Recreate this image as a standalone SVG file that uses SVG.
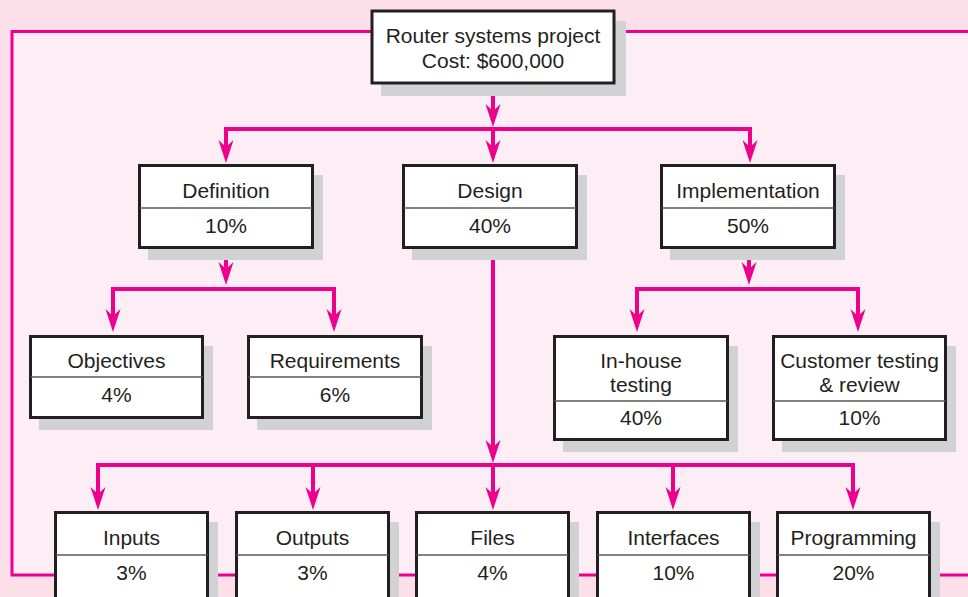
<svg xmlns="http://www.w3.org/2000/svg" width="968" height="597" viewBox="0 0 968 597">
<style>
.box{fill:#fff;stroke:#231f20;stroke-width:3}
.sh{fill:#d1d2d4}
.div{stroke:#58595b;stroke-width:1.5}
text{font-family:"Liberation Sans",Arial,sans-serif;font-size:21px;fill:#231f20;text-anchor:middle}
.c{fill:none;stroke:#ec008c;stroke-width:4;stroke-linejoin:miter}
</style>
<defs>
<marker id="ah" markerUnits="userSpaceOnUse" orient="auto" refX="0" refY="0" markerWidth="30" markerHeight="20" overflow="visible">
<path d="M10,0 L-13,-7.5 L-6,0 L-13,7.5 Z" fill="#ec008c"/>
</marker>
</defs>
<rect x="0" y="0" width="968" height="597" fill="#fcdfe9"/>
<rect x="12" y="31.5" width="960" height="543.5" fill="#fdedf4"/>
<path d="M972,31.5 H12 V575 H972" fill="none" stroke="#ec008c" stroke-width="3"/>

<g id="connectors">
<path class="c" d="M493,84 V117" marker-end="url(#ah)"/>
<path class="c" d="M493,129 H226 V153" marker-end="url(#ah)"/>
<path class="c" d="M493,129 V153" marker-end="url(#ah)"/>
<path class="c" d="M493,129 H750 V153" marker-end="url(#ah)"/>
<path class="c" d="M226,249 V275" marker-end="url(#ah)"/>
<path class="c" d="M226,289 H113 V322" marker-end="url(#ah)"/>
<path class="c" d="M226,289 H334 V322" marker-end="url(#ah)"/>
<path class="c" d="M749,249 V275" marker-end="url(#ah)"/>
<path class="c" d="M749,289 H637 V322" marker-end="url(#ah)"/>
<path class="c" d="M749,289 H858 V322" marker-end="url(#ah)"/>
<path class="c" d="M493,249 V453" marker-end="url(#ah)"/>
<path class="c" d="M493,465 H98 V500" marker-end="url(#ah)"/>
<path class="c" d="M493,465 H313 V500" marker-end="url(#ah)"/>
<path class="c" d="M493,465 V500" marker-end="url(#ah)"/>
<path class="c" d="M493,465 H673 V500" marker-end="url(#ah)"/>
<path class="c" d="M493,465 H853 V500" marker-end="url(#ah)"/>
</g>

<g id="root">
<rect class="sh" x="381" y="21" width="245" height="75"/>
<rect class="box" x="372" y="11" width="242" height="72"/>
<text x="493" y="43">Router systems project</text>
<text x="493" y="68">Cost: $600,000</text>
</g>

<g id="definition">
<rect class="sh" x="148" y="175" width="175" height="85"/>
<rect class="box" x="139.5" y="165.5" width="173" height="82"/>
<line class="div" x1="139.5" y1="208" x2="312.5" y2="208"/>
<text x="226" y="198">Definition</text>
<text x="226" y="233">10%</text>
</g>

<g id="design">
<rect class="sh" x="412" y="175" width="175" height="85"/>
<rect class="box" x="403.5" y="165.5" width="173" height="82"/>
<line class="div" x1="403.5" y1="208" x2="576.5" y2="208"/>
<text x="490" y="198">Design</text>
<text x="490" y="233">40%</text>
</g>

<g id="implementation">
<rect class="sh" x="670" y="175" width="175" height="85"/>
<rect class="box" x="661.5" y="165.5" width="173" height="82"/>
<line class="div" x1="661.5" y1="208" x2="834.5" y2="208"/>
<text x="748" y="198">Implementation</text>
<text x="748" y="233">50%</text>
</g>

<g id="objectives">
<rect class="sh" x="39" y="346" width="174" height="84"/>
<rect class="box" x="30.5" y="336.5" width="172" height="81"/>
<line class="div" x1="30.5" y1="377" x2="202.5" y2="377"/>
<text x="116.5" y="368">Objectives</text>
<text x="116.5" y="402">4%</text>
</g>

<g id="requirements">
<rect class="sh" x="257" y="346" width="175" height="84"/>
<rect class="box" x="248.5" y="336.5" width="173" height="81"/>
<line class="div" x1="248.5" y1="377" x2="421.5" y2="377"/>
<text x="335" y="368">Requirements</text>
<text x="335" y="402">6%</text>
</g>

<g id="inhouse">
<rect class="sh" x="563" y="346" width="175" height="106"/>
<rect class="box" x="554.5" y="336.5" width="173" height="103"/>
<line class="div" x1="554.5" y1="401" x2="727.5" y2="401"/>
<text x="641" y="368">In-house</text>
<text x="641" y="392">testing</text>
<text x="641" y="425">40%</text>
</g>

<g id="customer">
<rect class="sh" x="782" y="346" width="174" height="106"/>
<rect class="box" x="773.5" y="336.5" width="172" height="103"/>
<line class="div" x1="773.5" y1="401" x2="945.5" y2="401"/>
<text x="859.5" y="368">Customer testing</text>
<text x="859.5" y="392">&amp; review</text>
<text x="859.5" y="425">10%</text>
</g>

<g id="inputs">
<rect class="sh" x="64" y="522" width="154" height="90"/>
<rect class="box" x="55.5" y="512.5" width="152" height="90"/>
<line class="div" x1="55.5" y1="555" x2="207.5" y2="555"/>
<text x="131.5" y="545">Inputs</text>
<text x="131.5" y="580">3%</text>
</g>

<g id="outputs">
<rect class="sh" x="245" y="522" width="154" height="90"/>
<rect class="box" x="236.5" y="512.5" width="152" height="90"/>
<line class="div" x1="236.5" y1="555" x2="388.5" y2="555"/>
<text x="312.5" y="545">Outputs</text>
<text x="312.5" y="580">3%</text>
</g>

<g id="files">
<rect class="sh" x="425" y="522" width="154" height="90"/>
<rect class="box" x="416.5" y="512.5" width="152" height="90"/>
<line class="div" x1="416.5" y1="555" x2="568.5" y2="555"/>
<text x="492.5" y="545">Files</text>
<text x="492.5" y="580">4%</text>
</g>

<g id="interfaces">
<rect class="sh" x="606" y="522" width="154" height="90"/>
<rect class="box" x="597.5" y="512.5" width="152" height="90"/>
<line class="div" x1="597.5" y1="555" x2="749.5" y2="555"/>
<text x="673.5" y="545">Interfaces</text>
<text x="673.5" y="580">10%</text>
</g>

<g id="programming">
<rect class="sh" x="786" y="522" width="154" height="90"/>
<rect class="box" x="777.5" y="512.5" width="152" height="90"/>
<line class="div" x1="777.5" y1="555" x2="929.5" y2="555"/>
<text x="853.5" y="545">Programming</text>
<text x="853.5" y="580">20%</text>
</g>
</svg>
